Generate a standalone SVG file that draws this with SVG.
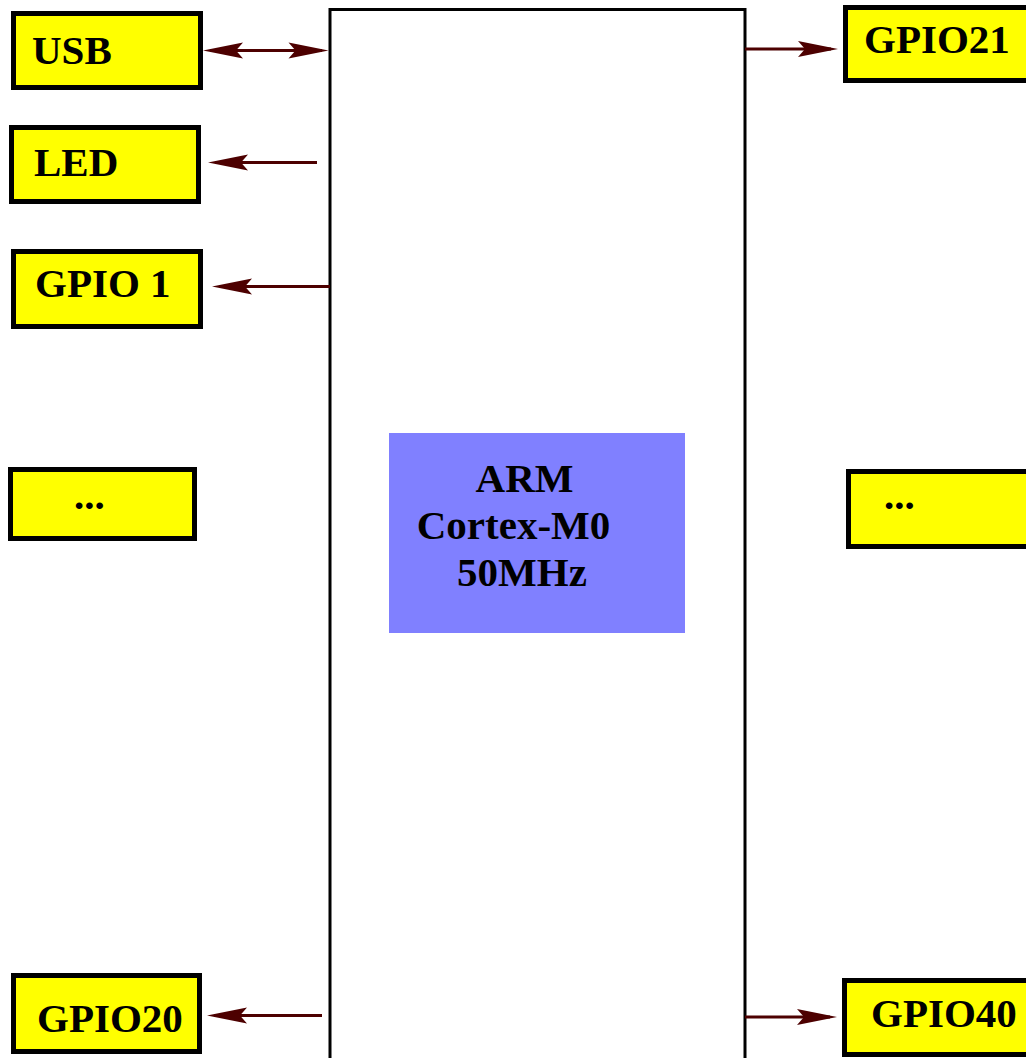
<svg xmlns="http://www.w3.org/2000/svg" xmlns:xlink="http://www.w3.org/1999/xlink" width="1026" height="1058" viewBox="0 0 1026 1058">
<style>
.box{fill:#ffff00;stroke:#000;stroke-width:5}
.lbl{font-family:"Liberation Serif","Times New Roman",serif;font-weight:bold;font-size:41px;fill:#000}
.cpu{fill:#8080ff;stroke:none}
.chip{fill:#fff;stroke:#000;stroke-width:3}
.wire{stroke:#4d0000;stroke-width:3;fill:none}
.head{fill:#4d0000}
</style>
<defs>
<path id="h" class="head" d="M0,0 L-40,-8 L-33,0 L-40,8 Z"/>
</defs>
<rect width="1026" height="1058" fill="#fff"/>
<g id="mcu">
<rect class="chip" x="330" y="9.5" width="415" height="1100"/>
</g>
<g id="core">
<rect class="cpu" x="389" y="433" width="296" height="200"/>
<text class="lbl" x="524.5" y="492" text-anchor="middle">ARM</text>
<text class="lbl" x="513.5" y="539" text-anchor="middle">Cortex-M0</text>
<text class="lbl" x="522" y="586" text-anchor="middle">50MHz</text>
</g>
<g id="usb"><rect class="box" x="13.5" y="13.5" width="187" height="74"/><text class="lbl" x="32" y="64">USB</text></g>
<g id="led"><rect class="box" x="11.5" y="127.5" width="187" height="74"/><text class="lbl" x="34" y="176">LED</text></g>
<g id="gpio1"><rect class="box" x="13.5" y="251.5" width="187" height="75"/><text class="lbl" x="35" y="297">GPIO 1</text></g>
<g id="dots-left"><rect class="box" x="10.5" y="469.5" width="184" height="69"/><text class="lbl" x="74" y="509">...</text></g>
<g id="gpio20"><rect class="box" x="13.5" y="975.5" width="186" height="76"/><text class="lbl" x="37" y="1032">GPIO20</text></g>
<g id="gpio21"><rect class="box" x="845.5" y="7.5" width="200" height="73"/><text class="lbl" x="864" y="53">GPIO21</text></g>
<g id="dots-right"><rect class="box" x="848.5" y="471.5" width="200" height="75"/><text class="lbl" x="884" y="509">...</text></g>
<g id="gpio40"><rect class="box" x="844.5" y="980.5" width="200" height="74"/><text class="lbl" x="871" y="1027">GPIO40</text></g>
<g id="connectors">
<line class="wire" x1="210" y1="50.5" x2="322" y2="50.5"/>
<use xlink:href="#h" transform="translate(203,50.5) rotate(180)"/>
<use xlink:href="#h" transform="translate(328.5,50.5)"/>
<line class="wire" x1="215" y1="162.5" x2="317" y2="162.5"/>
<use xlink:href="#h" transform="translate(208,162.5) rotate(180)"/>
<line class="wire" x1="219" y1="286.5" x2="330" y2="286.5"/>
<use xlink:href="#h" transform="translate(212,286.5) rotate(180)"/>
<line class="wire" x1="214" y1="1015.5" x2="322" y2="1015.5"/>
<use xlink:href="#h" transform="translate(207,1015.5) rotate(180)"/>
<line class="wire" x1="745" y1="49" x2="831" y2="49"/>
<use xlink:href="#h" transform="translate(838,49)"/>
<line class="wire" x1="745" y1="1017" x2="830" y2="1017"/>
<use xlink:href="#h" transform="translate(837,1017)"/>
</g>
</svg>
